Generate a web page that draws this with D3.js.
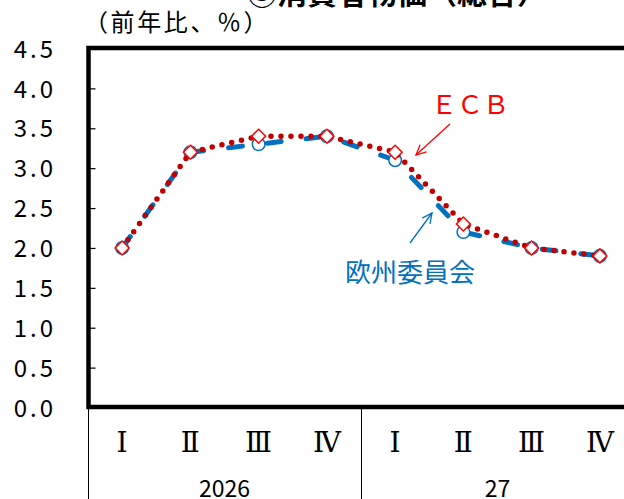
<!DOCTYPE html>
<html><head><meta charset="utf-8">
<script src="https://cdn.jsdelivr.net/npm/d3@7/dist/d3.min.js"></script>
<style>
html,body{margin:0;padding:0;background:#fff;}
svg{display:block;}
text{font-family:"Noto Sans CJK JP","Noto Sans",sans-serif;}
</style></head>
<body>
<svg id="c" width="624" height="499"></svg>
<script>
const quarters = ["Ⅰ","Ⅱ","Ⅲ","Ⅳ","Ⅰ","Ⅱ","Ⅲ","Ⅳ"];
const years = ["2026","27"];
const ecValues  = [2.0, 3.2, 3.3, 3.4, 3.1, 2.2, 2.0, 1.9];
const ecbValues = [2.0, 3.2, 3.4, 3.4, 3.2, 2.3, 2.0, 1.9];
const yTicks = [0, 0.5, 1.0, 1.5, 2.0, 2.5, 3.0, 3.5, 4.0, 4.5];
const titleText = "③消費者物価（総合）";
const unitText = "（前年比、％）";
const ecLabel = "欧州委員会";
const ecbLabel = "ＥＣＢ";

const svg = d3.select("#c");
const blue = "#0070C0", red = "#FF0000", dred = "#C00000";

const x = d3.scaleBand().domain(d3.range(quarters.length)).range([88, 634]);
const y = d3.scaleLinear().domain([0, 4.5]).range([407.5, 48.5]);
const cx = i => x(i) + x.bandwidth() / 2;

// title (cut off at top)
svg.append("text").attr("x", 397).attr("y", 4).attr("text-anchor", "middle")
  .attr("font-size", 30).attr("font-weight", "bold").attr("fill", "#000").text(titleText);
svg.append("text").attr("x", 84).attr("y", 31).attr("font-size", 24)
  .attr("letter-spacing", 2.6).attr("fill", "#000").text(unitText);

// y axis
const yAxis = d3.axisLeft(y).tickValues(yTicks).tickSizeInner(-7).tickSizeOuter(0)
  .tickPadding(32.5).tickFormat(d3.format(".1f"));
const ga = svg.append("g").attr("transform", "translate(88.5,0)").call(yAxis);
ga.select(".domain").remove();
ga.selectAll(".tick line").attr("stroke", "#000").attr("stroke-width", 1.2);
ga.selectAll(".tick text").attr("font-size", 24).attr("fill", "#000")
  .attr("letter-spacing", 3).attr("dy", "0.36em")
  .style("font-family", "'Noto Sans CJK JP',sans-serif");

// category separators below axis
const sepIdx = [0, 4, 8];
svg.selectAll("line.sep").data(sepIdx).join("line").attr("class", "sep")
  .attr("x1", d => (d < 8 ? x(d) : 634) + 0.5).attr("x2", d => (d < 8 ? x(d) : 634) + 0.5)
  .attr("y1", 409).attr("y2", 499).attr("stroke", "#000").attr("stroke-width", 1);

// quarter labels
svg.selectAll("text.q").data(quarters).join("text").attr("class", "q")
  .attr("x", (d, i) => cx(i)).attr("y", 452).attr("text-anchor", "middle")
  .attr("font-size", 28).style("font-family", "'DejaVu Serif','Noto Sans CJK JP',serif")
  .attr("fill", "#000").text(d => d);

// year labels
svg.selectAll("text.yr").data(years).join("text").attr("class", "yr")
  .attr("x", (d, i) => (x(i * 4) + x(i * 4 + 3) + x.bandwidth()) / 2).attr("y", 497)
  .attr("text-anchor", "middle").attr("font-size", 23)
  .attr("fill", "#000").text(d => d);

// lines
const line = d3.line().x((d, i) => cx(i)).y(d => y(d));
svg.append("path").datum(ecValues).attr("d", line).attr("fill", "none")
  .attr("stroke", blue).attr("stroke-width", 5).attr("stroke-linecap", "round")
  .attr("stroke-dasharray", "14,25");
svg.selectAll("circle.ec").data(ecValues).join("circle").attr("class", "ec")
  .attr("cx", (d, i) => cx(i)).attr("cy", d => y(d)).attr("r", 6.3)
  .attr("fill", "#fff").attr("stroke", blue).attr("stroke-width", 1.5);

svg.append("path").datum(ecbValues).attr("d", line).attr("fill", "none")
  .attr("stroke", dred).attr("stroke-width", 5.5).attr("stroke-linecap", "round")
  .attr("stroke-dasharray", "0,10");
const dia = d3.symbol().type(d3.symbolSquare).size(98);
svg.selectAll("path.ecb").data(ecbValues).join("path").attr("class", "ecb")
  .attr("d", dia).attr("transform", (d, i) => `translate(${cx(i)},${y(d)}) rotate(45)`)
  .attr("fill", "#fff").attr("stroke", red).attr("stroke-width", 1.5);

// frame
svg.append("rect").attr("x", 88.5).attr("y", 48).attr("width", 600).attr("height", 359)
  .attr("fill", "none").attr("stroke", "#000").attr("stroke-width", 4.5);

// annotations
function arrow(x1, y1, x2, y2, col) {
  const g = svg.append("g").attr("stroke", col).attr("stroke-width", 1.3).attr("fill", "none");
  g.append("line").attr("x1", x1).attr("y1", y1).attr("x2", x2).attr("y2", y2);
  const a = Math.atan2(y2 - y1, x2 - x1), L = 11, w = 0.45;
  g.append("path").attr("d",
    `M${x2 - L * Math.cos(a - w)},${y2 - L * Math.sin(a - w)}L${x2},${y2}L${x2 - L * Math.cos(a + w)},${y2 - L * Math.sin(a + w)}`);
}
svg.append("text").attr("x", 470).attr("y", 114).attr("text-anchor", "middle")
  .attr("font-size", 26).attr("fill", red).text(ecbLabel);
arrow(450, 124, 416, 155, red);
svg.append("text").attr("x", 410).attr("y", 282).attr("text-anchor", "middle")
  .attr("font-size", 26).attr("fill", blue).text(ecLabel);
arrow(410, 243, 432, 213, blue);
</script>
</body></html>
